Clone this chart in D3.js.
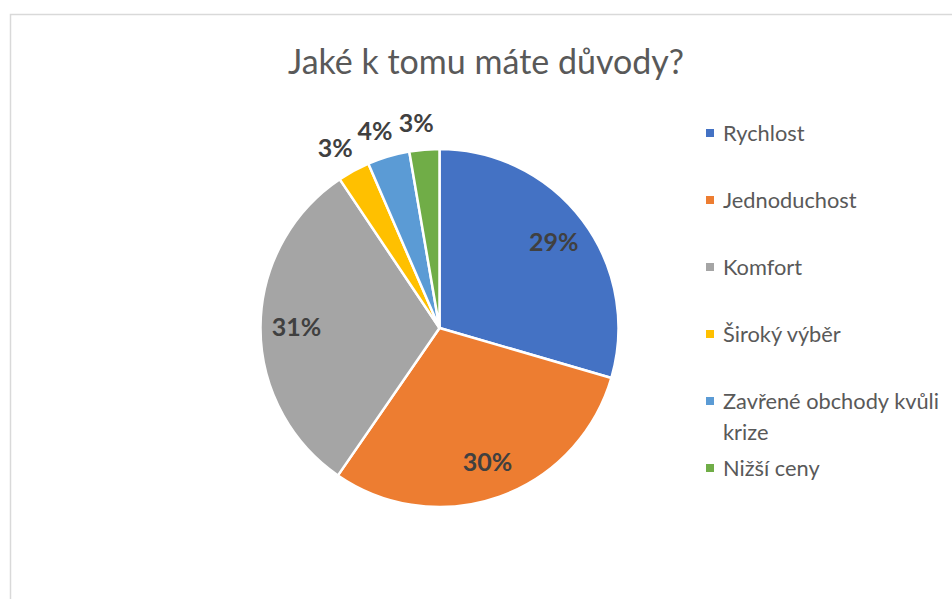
<!DOCTYPE html>
<html>
<head>
<meta charset="utf-8">
<script src="https://cdn.jsdelivr.net/npm/d3@7"></script>
<style>
  html, body { margin: 0; padding: 0; background: #fff; }
  svg { display: block; font-family: Lato, "Open Sans", sans-serif; }
</style>
</head>
<body>
<div id="chart"></div>
<script>
// data
const title = "Jaké k tomu máte důvody?";
const categories = ["Rychlost", "Jednoduchost", "Komfort", "Široký výběr", "Zavřené obchody kvůli krize", "Nižší ceny"];
const values = [29.5, 30.1, 31.0, 2.9, 3.8, 2.7];
const labels = ["29%", "30%", "31%", "3%", "4%", "3%"];
const colors = ["#4472C4", "#ED7D31", "#A5A5A5", "#FFC000", "#5B9BD5", "#70AD47"];

const width = 952, height = 599;
const cx = 439.5, cy = 328, radius = 179;

const svg = d3.select('#chart')
  .append('svg')
  .attr('width', width)
  .attr('height', height);

// chart area frame (runs off the right and bottom edge)
svg.append('rect')
  .attr('x', 10.5)
  .attr('y', 14.5)
  .attr('width', width + 20)
  .attr('height', height + 20)
  .attr('fill', '#fff')
  .attr('stroke', '#d9d9d9')
  .attr('stroke-width', 1.5);

svg.append('text')
  .attr('x', 486)
  .attr('y', 74)
  .attr('text-anchor', 'middle')
  .attr('fill', '#595959')
  .style('font-size', '34px')
  .text(title);

const data = categories.map((c, i) => ({ name: c, value: values[i], label: labels[i], color: colors[i] }));

const pie = d3.pie()
  .sort(null)
  .value(d => d.value);

const arcs = pie(data);

const arc = d3.arc()
  .innerRadius(0)
  .outerRadius(radius);

const g = svg.append('g')
  .attr('transform', `translate(${cx},${cy})`);

g.selectAll('path')
  .data(arcs)
  .enter()
  .append('path')
  .attr('d', arc)
  .attr('fill', d => d.data.color)
  .attr('stroke', '#fff')
  .attr('stroke-width', 2.5)
  .attr('stroke-linejoin', 'round');

// big slices get their label inside, small ones outside the rim
const insideArc = d3.arc().innerRadius(143).outerRadius(143);
const outsideArc = d3.arc().innerRadius(205).outerRadius(205);

g.selectAll('text.lbl')
  .data(arcs)
  .enter()
  .append('text')
  .attr('class', 'lbl')
  .attr('transform', d => {
    const big = d.endAngle - d.startAngle > 0.5;
    const [x, y] = big ? insideArc.centroid(d) : outsideArc.centroid(d);
    return `translate(${big ? x : x - 6},${y})`;
  })
  .attr('text-anchor', 'middle')
  .attr('dy', '0.35em')
  .attr('fill', '#404040')
  .style('font-size', '25px')
  .style('font-weight', 'bold')
  .text(d => d.data.label);

// legend
const legendX = 706, legendY = 133, legendStep = 67, maxTextW = 232;

const legend = svg.append('g');

const item = legend.selectAll('g')
  .data(data)
  .enter()
  .append('g')
  .attr('transform', (d, i) => `translate(${legendX},${legendY + i * legendStep})`);

item.append('rect')
  .attr('x', 0)
  .attr('y', -4)
  .attr('width', 8)
  .attr('height', 8)
  .attr('fill', d => d.color);

item.append('text')
  .attr('x', 17)
  .attr('fill', '#595959')
  .style('font-size', '21.8px')
  .each(function (d) {
    const t = d3.select(this);
    const words = d.name.split(' ');
    let line = [];
    let tspan = t.append('tspan').attr('x', 17).attr('dy', '0.35em');
    words.forEach(w => {
      line.push(w);
      tspan.text(line.join(' '));
      if (tspan.node().getComputedTextLength() > maxTextW && line.length > 1) {
        line.pop();
        tspan.text(line.join(' '));
        line = [w];
        tspan = t.append('tspan').attr('x', 17).attr('dy', '1.42em').text(w);
      }
    });
  });
</script>
</body>
</html>
